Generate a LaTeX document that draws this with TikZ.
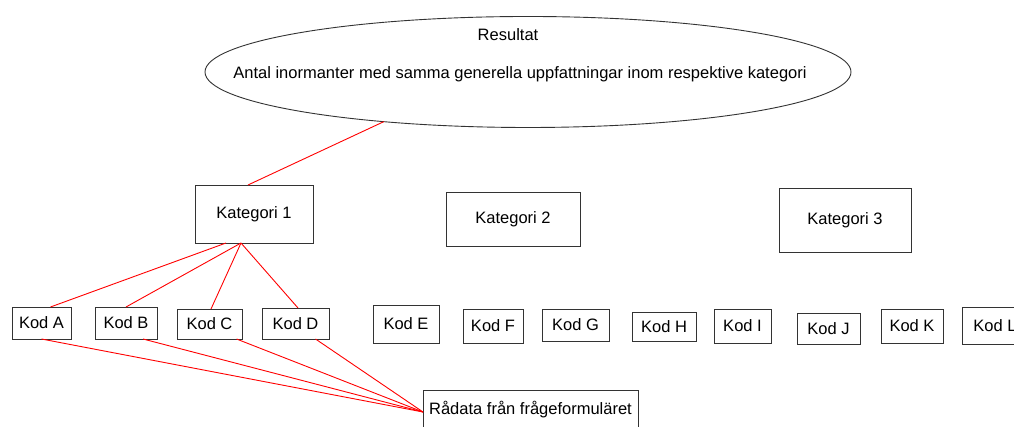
\documentclass[tikz,border=0pt]{standalone}
\usepackage{fontspec}
\setmainfont{Liberation Sans}
\usepackage{xcolor}
\usetikzlibrary{shapes.geometric}

\begin{document}
\begin{tikzpicture}[x=1pt,y=1pt,
  box/.style={draw=drawColor,line width=0.9pt,inner sep=0pt,outer sep=0pt,text=textColor,font=\fontsize{16.5}{19}\selectfont},
  lbl/.style={text=textColor,inner sep=0pt,outer sep=0pt,font=\fontsize{16.5}{19}\selectfont},
  link/.style={draw=linkColor,line width=0.9pt}]
\definecolor{fillColor}{RGB}{255,255,255}
\definecolor{drawColor}{gray}{0.20}
\definecolor{textColor}{RGB}{0,0,0}
\definecolor{linkColor}{RGB}{255,0,0}
\path[use as bounding box,fill=fillColor] (0,0) rectangle (1014,427);
\begin{scope}
\path[clip] (0,0) rectangle (1014,427);

% result
\node[box,ellipse,minimum width=646pt,minimum height=111pt] (res) at (528,355) {};
\node[lbl] (restitle) at (508,392) {Resultat};
\node[lbl] (restext) at (520,353) {Antal inormanter med samma generella uppfattningar inom respektive kategori};

% categories
\node[box,minimum width=118pt,minimum height=58pt] (kat1) at (254,213) {Kategori 1};
\node[box,minimum width=134pt,minimum height=54pt] (kat2) at (513,208) {Kategori 2};
\node[box,minimum width=132pt,minimum height=64pt] (kat3) at (845,207) {Kategori 3};

% codes
\node[box,minimum width=59pt,minimum height=32pt] (kodA) at ( 41.5,104.0) {Kod A};
\node[box,minimum width=62pt,minimum height=32pt] (kodB) at (126.0,104.0) {Kod B};
\node[box,minimum width=65pt,minimum height=30pt] (kodC) at (209.5,103.0) {Kod C};
\node[box,minimum width=67pt,minimum height=31pt] (kodD) at (295.5,103.5) {Kod D};
\node[box,minimum width=66pt,minimum height=38pt] (kodE) at (406.0,103.0) {Kod E};
\node[box,minimum width=60pt,minimum height=34pt] (kodF) at (493.0,101.0) {Kod F};
\node[box,minimum width=67pt,minimum height=32pt] (kodG) at (575.5,102.0) {Kod G};
\node[box,minimum width=64pt,minimum height=29pt] (kodH) at (664.0,100.5) {Kod H};
\node[box,minimum width=57pt,minimum height=34pt] (kodI) at (742.5,101.0) {Kod I};
\node[box,minimum width=63pt,minimum height=31pt] (kodJ) at (828.5, 98.5) {Kod J};
\node[box,minimum width=62pt,minimum height=34pt] (kodK) at (912.0,101.0) {Kod K};
\node[box,minimum width=66pt,minimum height=37pt] (kodL) at (995.0,101.5) {Kod L};

% raw data
\node[box,minimum width=215pt,minimum height=40pt] (raw) at (530.5,17) {Rådata från frågeformuläret};

% links
\path[link] (res.199) -- ([xshift=-6pt]kat1.north);

\path[link] ([xshift=-28pt]kat1.south) -- ([xshift=9pt]kodA.north);
\path[link] ([xshift=-13pt]kat1.south) -- (kodB.north);
\path[link] ([xshift=-13pt]kat1.south) -- ([xshift=1.5pt]kodC.north);
\path[link] ([xshift=-13pt]kat1.south) -- ([xshift=2.5pt]kodD.north);

\path[link] (kodA.south) -- ([yshift=-2pt]raw.west);
\path[link] ([xshift=17pt]kodB.south) -- ([yshift=-2pt]raw.west);
\path[link] ([xshift=27pt]kodC.south) -- ([yshift=-2pt]raw.west);
\path[link] ([xshift=20pt]kodD.south) -- ([yshift=-2pt]raw.west);
\end{scope}
\end{tikzpicture}
\end{document}
